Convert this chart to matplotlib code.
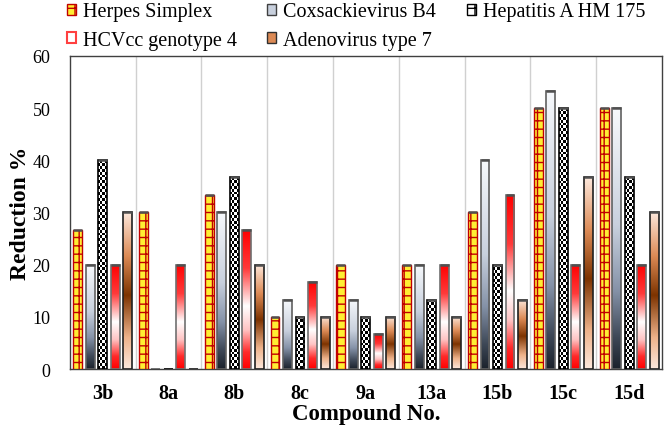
import numpy as np
import matplotlib
matplotlib.use('Agg')
import matplotlib.pyplot as plt
from matplotlib.colors import LinearSegmentedColormap, ListedColormap
from matplotlib.patches import Patch

compounds = ['3b', '8a', '8b', '8c', '9a', '13a', '15b', '15c', '15d']
series_names = ['Herpes Simplex', 'Coxsackievirus B4', 'Hepatitis A HM 175',
                'HCVcc genotype 4', 'Adenovirus type 7']
herpes = [26.7, 30, 33.3, 10, 20, 20, 30, 50, 50]
coxsackie = [20, 0, 30, 13.3, 13.3, 20, 40, 53.3, 50]
hepatitis_a = [40, 0, 36.7, 10, 10, 13.3, 20, 50, 36.7]
hcv = [20, 20, 26.7, 16.7, 6.7, 20, 33.3, 20, 20]
adeno = [30, 0, 20, 10, 10, 10, 13.3, 36.7, 30]
y_ticks = [0, 10, 20, 30, 40, 50, 60]

plt.rcParams['font.family'] = ['Liberation Serif', 'DejaVu Serif']
plt.rcParams['hatch.linewidth'] = 1.0

fig = plt.figure(figsize=(6.64, 4.31), dpi=100)
ax = fig.add_axes([0.105, 0.1415, 0.892, 0.7265])

x = np.arange(len(compounds))
step = 0.19
width = 0.135

cox_cmap = LinearSegmentedColormap.from_list('cox', [
    (0, '#1b222c'), (0.12, '#3e4857'), (0.3, '#8592a8'), (0.55, '#c8d0dd'), (1, '#f7f9fc')])
hcv_cmap = LinearSegmentedColormap.from_list('hcv', [
    (0, '#ff0000'), (0.12, '#ff2a2a'), (0.28, '#ffc4c4'), (0.45, '#ffffff'),
    (0.72, '#ff3a3a'), (1, '#ff0000')])
adeno_cmap = LinearSegmentedColormap.from_list('adeno', [
    (0, '#fde8dc'), (0.2, '#eeb28a'), (0.47, '#7d3300'), (0.72, '#dc8a55'), (1, '#fde8dc')])
checker_cmap = ListedColormap(['#000000', '#ffffff'])

series = [herpes, coxsackie, hepatitis_a, hcv, adeno]
edges = ['#c00000', '#606060', '#000000', '#707070', '#202020']

grad = np.linspace(0, 1, 256).reshape(-1, 1)

for i, (vals, ec) in enumerate(zip(series, edges)):
    pos = x + (i - 2) * step
    if i == 0:
        bars = ax.bar(pos, vals, width, facecolor='#ffee33', edgecolor=ec,
                      hatch='++', linewidth=1.0, zorder=3)
    else:
        bars = ax.bar(pos, vals, width, facecolor='none', edgecolor=ec,
                      linewidth=1.2, zorder=4)
        for b, v in zip(bars, vals):
            if v <= 0:
                continue
            x0 = b.get_x()
            x1 = x0 + b.get_width()
            if i == 1:
                im = ax.imshow(grad, cmap=cox_cmap, origin='lower', aspect='auto',
                               extent=[x0, x1, 0, v], zorder=3)
            elif i == 2:
                nrows = max(int(v / 0.55), 2)
                chk = (np.add.outer(np.arange(nrows), np.arange(4)) % 2).astype(float)
                im = ax.imshow(chk, cmap=checker_cmap, origin='lower', aspect='auto',
                               interpolation='nearest', extent=[x0, x1, 0, v], zorder=3)
            elif i == 3:
                im = ax.imshow(grad, cmap=hcv_cmap, origin='lower', aspect='auto',
                               extent=[x0, x1, 0, v], zorder=3)
            else:
                im = ax.imshow(grad, cmap=adeno_cmap, origin='lower', aspect='auto',
                               extent=[x0, x1, 0, v], zorder=3)
            im.set_clip_path(b)
    nz = [(p, v) for p, v in zip(pos, vals) if v > 0]
    if nz:
        ax.hlines([v for p, v in nz], [p - width / 2 for p, v in nz],
                  [p + width / 2 for p, v in nz], color='#505050', lw=1.8, zorder=5)

ax.set_xlim(-0.5, len(compounds) - 0.5)
ax.set_ylim(0, 60)
ax.set_yticks(y_ticks)
ax.set_yticklabels([str(t) for t in y_ticks], fontsize=13)
ax.set_xticks(x)
ax.set_xticklabels(compounds, fontsize=14.5, fontweight='bold')
ax.tick_params(length=0)
ax.tick_params(axis='y', pad=14)
ax.tick_params(axis='x', pad=10)
for gx in x[:-1] + 0.5:
    ax.axvline(gx, color='#d0d0d0', lw=1.0, zorder=1)
for s in ax.spines.values():
    s.set_color('#404040')
    s.set_linewidth(1.0)

ax.set_ylabel('Reduction %', fontsize=17, fontweight='bold', labelpad=1)
ax.set_xlabel('Compound No.', fontsize=16.5, fontweight='bold', labelpad=0)

handle_map = {
    'Herpes Simplex': Patch(facecolor='#ffee33', edgecolor='#c00000', hatch='+'),
    'Coxsackievirus B4': Patch(facecolor='#c8d0dd', edgecolor='#404040'),
    'Hepatitis A HM 175': Patch(facecolor='#ffffff', edgecolor='#000000', hatch='+'),
    'HCVcc genotype 4': Patch(facecolor='#ffffff', edgecolor='#ff4040', linewidth=1.5),
    'Adenovirus type 7': Patch(facecolor='#dc8a55', edgecolor='#303030'),
}
# column-major ordering so rows read: Herpes, Cox, HepA / HCV, Adeno
order = [0, 3, 1, 4, 2]
labels = [series_names[k] for k in order]
handles = [handle_map[l] for l in labels]
fig.legend(handles, labels, loc='upper left', bbox_to_anchor=(0.101, 0.992),
           ncol=3, frameon=False, fontsize=14.5, handlelength=0.45, handleheight=0.45,
           handletextpad=0.35, columnspacing=1.5, labelspacing=0.45,
           borderpad=0, borderaxespad=0)

fig.savefig('out.png', dpi=100)
